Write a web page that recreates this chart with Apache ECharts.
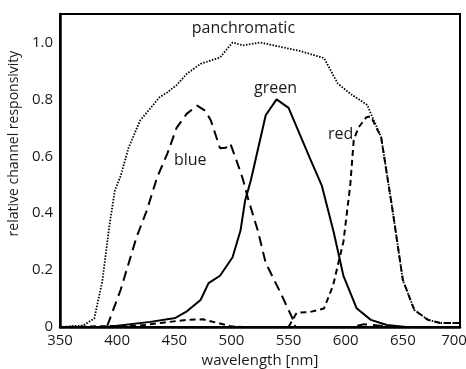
<!DOCTYPE html>
<html>
<head>
<meta charset="utf-8">
<script src="https://cdn.jsdelivr.net/npm/echarts@6/dist/echarts.min.js"></script>
<style>
  html, body { margin: 0; padding: 0; background: #fff; }
  #chart { width: 466px; height: 369px; }
</style>
</head>
<body>
<div id="chart"></div>
<script>
// wavelength [nm], relative responsivity
const panchromatic = [
  [350, 0], [370, 0.005], [380, 0.03], [387, 0.16], [393, 0.35], [398, 0.48], [403, 0.53],
  [410, 0.63], [420, 0.725], [437, 0.807], [444, 0.825], [452, 0.85], [461, 0.89],
  [473, 0.925], [490, 0.947], [501, 1.0], [510, 0.99], [525, 1.0], [560, 0.97],
  [581, 0.945], [593, 0.856], [604, 0.82], [619, 0.78], [622, 0.75], [631, 0.667],
  [641, 0.41], [650, 0.165], [660, 0.06], [672, 0.025], [683, 0.014], [700, 0.014]
];
const blue = [
  [350, 0], [391, 0], [403, 0.13], [417, 0.316], [426, 0.41], [435, 0.526], [444, 0.61],
  [452, 0.70], [461, 0.75], [470, 0.778], [477, 0.76], [482, 0.726], [490, 0.628],
  [495, 0.63], [499, 0.645], [504, 0.59], [510, 0.52], [515, 0.445], [523, 0.34],
  [530, 0.225], [543, 0.12], [554, 0.025], [556, 0], [605, 0], [616, 0.01], [628, 0.005],
  [640, 0], [700, 0]
];
const green = [
  [350, 0], [391, 0], [429, 0.018], [451, 0.032], [461, 0.055], [473, 0.095], [480, 0.154],
  [490, 0.18], [501, 0.245], [508, 0.34], [512, 0.445], [517, 0.516], [530, 0.744],
  [539.5, 0.80], [550, 0.77], [569, 0.59], [579, 0.498], [589.5, 0.333], [598, 0.18],
  [609.5, 0.066], [622, 0.025], [636, 0.007], [653, 0], [700, 0]
];
const red = [
  [350, 0], [420, 0.005], [440, 0.015], [460, 0.025], [475, 0.027], [490, 0.012], [500, 0.002],
  [510, 0], [550, 0], [557, 0.05], [569, 0.053], [581, 0.065], [589, 0.147], [598, 0.30],
  [604, 0.5], [607, 0.656], [611, 0.70], [618, 0.737], [622, 0.74], [631, 0.667],
  [641, 0.41], [650, 0.165], [660, 0.06], [672, 0.025], [683, 0.014], [700, 0.014]
];
const xTicks = [350, 400, 450, 500, 550, 600, 650, 700];
const yTicks = [0, 0.2, 0.4, 0.6, 0.8, 1.0];
const curveLabels = [
  { name: 'panchromatic', coord: [510.5, 1.05] },
  { name: 'green', coord: [538.6, 0.84] },
  { name: 'blue', coord: [464, 0.586] },
  { name: 'red', coord: [595.6, 0.677] }
];

const chart = echarts.init(document.getElementById('chart'));
const font = '"Open Sans", "Noto Sans", sans-serif';
const ink = '#1a1a1a';

function line(name, data, type, width) {
  return {
    name: name,
    type: 'line',
    data: data,
    symbol: 'none',
    silent: true,
    lineStyle: { color: '#000', width: width, type: type },
    markPoint: {
      symbol: 'circle',
      symbolSize: 0,
      label: {
        show: true,
        formatter: '{b}',
        color: ink,
        fontFamily: font,
        fontSize: 16,
        letterSpacing: 0.5,
        position: 'inside'
      },
      data: curveLabels.filter(l => l.name === name)
    }
  };
}

chart.setOption({
  animation: false,
  grid: {
    left: 60, right: 6, top: 14, bottom: 42,
    outerBoundsMode: 'none',
    show: true, borderColor: '#000', borderWidth: 2
  },
  xAxis: {
    type: 'value',
    min: 350, max: 700, interval: 50,
    name: 'wavelength [nm]',
    nameLocation: 'middle',
    nameGap: 23,
    nameTextStyle: { color: ink, fontFamily: font, fontSize: 15, letterSpacing: 1.5 },
    axisLine: { show: true, onZero: false, lineStyle: { color: '#000', width: 2.5 } },
    axisTick: { show: false },
    splitLine: { show: false },
    axisLabel: {
      color: ink, fontFamily: font, fontSize: 15, margin: 6,
      formatter: v => xTicks.includes(v) ? (v === 700 ? '{last|700}' : String(v)) : '',
      rich: { last: { color: ink, fontFamily: font, fontSize: 15, padding: [0, 12, 0, 0] } }
    }
  },
  yAxis: {
    type: 'value',
    min: 0, max: 1.1, interval: 0.2,
    name: 'relative channel responsivity',
    nameLocation: 'middle',
    nameGap: 38,
    nameTextStyle: { color: ink, fontFamily: font, fontSize: 14, padding: [0, 0, 0, 54] },
    axisLine: { show: true, lineStyle: { color: '#000', width: 2.5 } },
    axisTick: { show: false },
    splitLine: { show: false },
    axisLabel: {
      color: ink, fontFamily: font, fontSize: 15, margin: 7,
      formatter: v => {
        const t = yTicks.find(y => Math.abs(y - v) < 1e-6);
        if (t === undefined) return '';
        return t === 0 ? '0' : t.toFixed(1);
      }
    }
  },
  series: [
    line('panchromatic', panchromatic, [1.5, 1.5], 1.8),
    line('blue', blue, [10, 6], 2),
    line('green', green, 'solid', 2),
    line('red', red, [6, 4], 2)
  ]
});
</script>
</body>
</html>
